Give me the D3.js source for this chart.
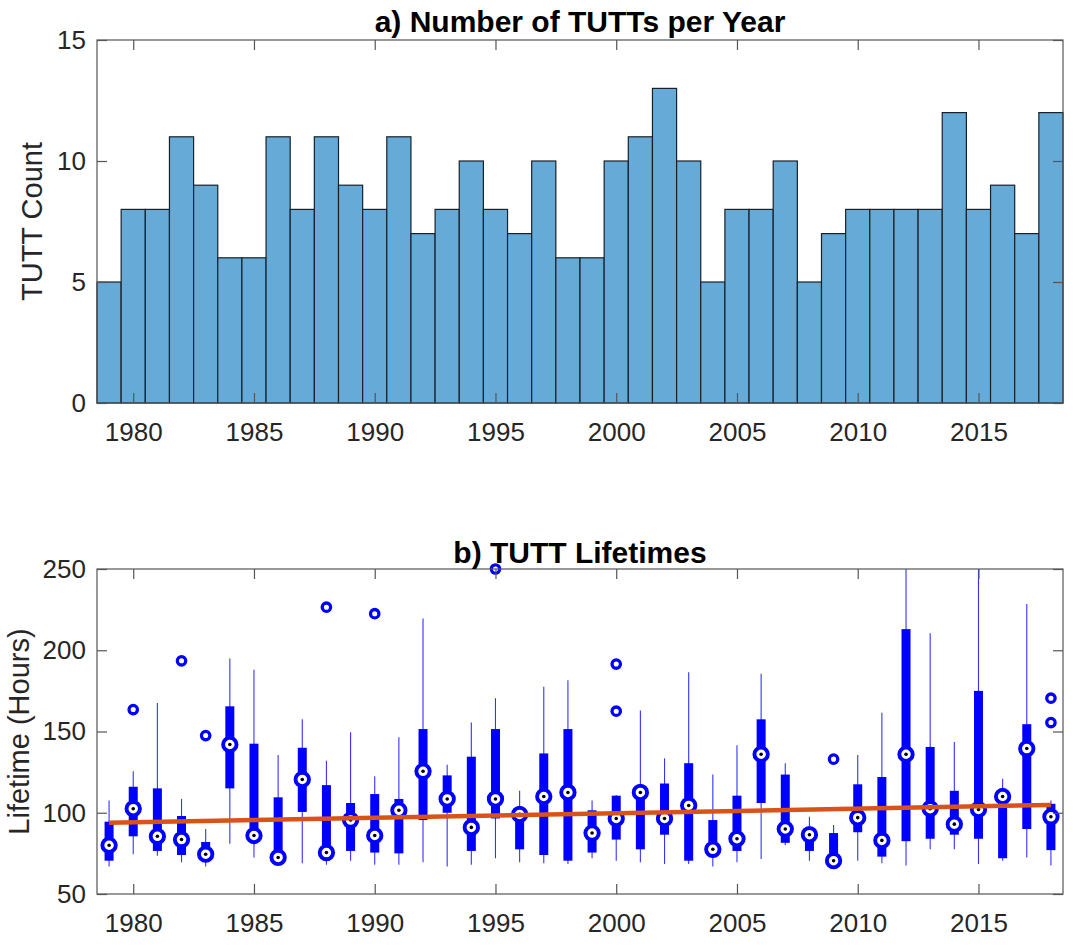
<!DOCTYPE html>
<html>
<head>
<meta charset="utf-8">
<script src="https://cdn.jsdelivr.net/npm/d3@7/dist/d3.min.js"></script>
<style>
  html, body { margin: 0; padding: 0; background: #ffffff; }
  svg { display: block; font-family: "Liberation Sans", Arial, Helvetica, sans-serif; }
</style>
</head>
<body>
<svg id="chart" width="1073" height="952"></svg>
<script>
// ---- data ----
const years = [1979, 1980, 1981, 1982, 1983, 1984, 1985, 1986, 1987, 1988,
               1989, 1990, 1991, 1992, 1993, 1994, 1995, 1996, 1997, 1998,
               1999, 2000, 2001, 2002, 2003, 2004, 2005, 2006, 2007, 2008,
               2009, 2010, 2011, 2012, 2013, 2014, 2015, 2016, 2017, 2018];

const tuttCounts = [5, 8, 8, 11, 9, 6, 6, 11, 8, 11,
                    9, 8, 11, 7, 8, 10, 8, 7, 10, 6,
                    6, 10, 11, 13, 10, 5, 8, 8, 10, 5,
                    7, 8, 8, 8, 8, 12, 8, 9, 7, 12];

// Lifetime box statistics (hours) per year
const whiskerLow = [67, 74.5, 73.5, 69.5, 67, 81, 72.5, 70, 69, 68,
                    70.5, 68, 68, 69.5, 67, 68, 72, 69.5, 69, 68.5,
                    72, 70.5, 69.5, 68.5, 68.5, 67, 69.5, 71.5, 80, 70.5,
                    68, 70.5, 69, 67.5, 77.5, 77.5, 68.5, 70.5, 72.5, 67.5];
const quartile1  = [70.5, 85.5, 76.5, 74, 72, 115, 82, 72, 100.5, 73,
                    76.5, 75.5, 75, 95.5, 100, 76.5, 96.5, 77.5, 74, 70.5,
                    75.5, 83.5, 77.5, 86.5, 70.5, 73, 76.5, 106, 81.5, 76.5,
                    70, 88, 73, 82.5, 84, 86.5, 84, 72, 90, 77];
const medians    = [80, 102.5, 85.5, 83.5, 74.5, 142, 86, 72.5, 120.5, 75.5,
                    95.5, 86, 101.5, 125.5, 108.5, 91, 108.5, 99, 110, 112.5,
                    87.5, 96.5, 112.5, 96.5, 104.5, 77.5, 84, 136, 90, 86.5,
                    70.5, 97, 83, 136, 102.5, 93, 102, 110, 139.5, 97.5];
const quartile3  = [94.5, 116, 115, 98, 82, 165.5, 142.5, 109.5, 140, 117,
                    106, 111.5, 108.5, 151.5, 123, 134.5, 151.5, 101, 136.5, 151.5,
                    101.5, 110.5, 115, 118, 130.5, 95.5, 110.5, 157.5, 123.5, 89,
                    87.5, 117.5, 122, 213, 140.5, 113.5, 175, 112, 154.5, 105.5];
const whiskerHigh = [107.5, 125.5, 167.5, 108.5, 90, 195, 188, 135.5, 157.5, 132,
                     149.5, 122.5, 146.5, 219.5, 129.5, 155.5, 170.5, 113.5, 177.5, 181.5,
                     107.5, 111, 163, 133.5, 186.5, 123.5, 141.5, 185.5, 130.5, 97.5,
                     92.5, 135.5, 161.5, 250, 210.5, 143.5, 250, 121, 228.5, 107.5];

const outlierYears  = [1980, 1982, 1983, 1988, 1990, 1995, 2000, 2000, 2009, 2018, 2018];
const outlierValues = [163.5, 193.5, 147.5, 226.5, 222.5, 250, 191.5, 162.5, 133, 170.5, 155.5];

// Linear trend of lifetimes (end points)
const trendYears  = [1979, 2018];
const trendValues = [93.8, 104.8];

const yearTicks     = [1980, 1985, 1990, 1995, 2000, 2005, 2010, 2015];
const countTicks    = [0, 5, 10, 15];
const lifetimeTicks = [50, 100, 150, 200, 250];

// ---- layout ----
const svg = d3.select("#chart");
svg.append("rect").attr("width", 1073).attr("height", 952).attr("fill", "#ffffff");

const left = 97, right = 1063;
const topA = { top: 40, bottom: 403 };
const topB = { top: 569, bottom: 894 };

const textColor = "#262626";
const axisColor = "#555555";
const tickFont = 26;
const labelFont = 29;
const titleFont = 30;

const x = d3.scaleLinear().domain([1978.5, 2018.5]).range([left, right]);
const yA = d3.scaleLinear().domain([0, 15]).range([topA.bottom, topA.top]);
const yB = d3.scaleLinear().domain([50, 250]).range([topB.bottom, topB.top]);

function styleAxis(g, withLabels) {
  g.selectAll(".domain").remove();
  g.selectAll(".tick line").attr("stroke", axisColor).attr("stroke-width", 1.2);
  if (withLabels) {
    g.selectAll(".tick text")
      .attr("fill", textColor)
      .style("font-size", tickFont + "px");
  } else {
    g.selectAll(".tick text").remove();
  }
}

function drawFrame(yScale, box, yTicks, labelGap) {
  const g = svg.append("g");
  const bottomAxis = g.append("g")
    .attr("transform", `translate(0,${box.bottom})`)
    .call(d3.axisBottom(x).tickValues(yearTicks).tickFormat(d3.format("d"))
      .tickSizeInner(-10).tickSizeOuter(0).tickPadding(labelGap));
  styleAxis(bottomAxis, true);

  const topAxis = g.append("g")
    .attr("transform", `translate(0,${box.top})`)
    .call(d3.axisTop(x).tickValues(yearTicks).tickSizeInner(-10).tickSizeOuter(0));
  styleAxis(topAxis, false);

  const leftAxis = g.append("g")
    .attr("transform", `translate(${left},0)`)
    .call(d3.axisLeft(yScale).tickValues(yTicks).tickFormat(d3.format("d"))
      .tickSizeInner(-10).tickSizeOuter(0).tickPadding(11));
  styleAxis(leftAxis, true);

  const rightAxis = g.append("g")
    .attr("transform", `translate(${right},0)`)
    .call(d3.axisRight(yScale).tickValues(yTicks).tickSizeInner(-10).tickSizeOuter(0));
  styleAxis(rightAxis, false);

  g.append("rect")
    .attr("x", left).attr("y", box.top)
    .attr("width", right - left).attr("height", box.bottom - box.top)
    .attr("fill", "none").attr("stroke", axisColor).attr("stroke-width", 1.2);
  return g;
}

// ---- panel a: yearly counts ----
const barsA = svg.append("g");
barsA.selectAll("rect")
  .data(years.map((yr, i) => ({ yr, n: tuttCounts[i] })))
  .join("rect")
  .attr("x", d => x(d.yr - 0.5))
  .attr("width", d => x(d.yr + 0.5) - x(d.yr - 0.5))
  .attr("y", d => yA(d.n))
  .attr("height", d => yA(0) - yA(d.n))
  .attr("fill", "#66aad7")
  .attr("stroke", "#17212a")
  .attr("stroke-width", 1.2);

drawFrame(yA, topA, countTicks, 20);

svg.append("text")
  .attr("x", (left + right) / 2).attr("y", 32)
  .attr("text-anchor", "middle")
  .attr("font-weight", "bold")
  .attr("fill", "#000000")
  .style("font-size", titleFont + "px")
  .text("a) Number of TUTTs per Year");

svg.append("text")
  .attr("transform", `translate(42,${(topA.top + topA.bottom) / 2}) rotate(-90)`)
  .attr("text-anchor", "middle")
  .attr("fill", textColor)
  .style("font-size", labelFont + "px")
  .text("TUTT Count");

// ---- panel b: lifetimes box plot ----
const stats = years.map((yr, i) => ({
  yr,
  lo: whiskerLow[i], q1: quartile1[i], med: medians[i], q3: quartile3[i], hi: whiskerHigh[i]
}));

const boxesB = svg.append("g");
boxesB.selectAll("line.whisker")
  .data(stats).join("line")
  .attr("class", "whisker")
  .attr("x1", d => x(d.yr)).attr("x2", d => x(d.yr))
  .attr("y1", d => yB(d.lo)).attr("y2", d => yB(d.hi))
  .attr("stroke", "#0000ff").attr("stroke-width", 1.1).attr("stroke-opacity", 0.8);

boxesB.selectAll("rect.box")
  .data(stats).join("rect")
  .attr("class", "box")
  .attr("x", d => x(d.yr) - 4.5).attr("width", 9)
  .attr("y", d => yB(d.q3)).attr("height", d => yB(d.q1) - yB(d.q3))
  .attr("fill", "#0000ff");

boxesB.selectAll("circle.median")
  .data(stats).join("circle")
  .attr("class", "median")
  .attr("cx", d => x(d.yr)).attr("cy", d => yB(d.med))
  .attr("r", 6.7)
  .attr("fill", "#ffffff").attr("stroke", "#0000ff").attr("stroke-width", 3.9);

boxesB.selectAll("circle.mdot")
  .data(stats).join("circle")
  .attr("class", "mdot")
  .attr("cx", d => x(d.yr)).attr("cy", d => yB(d.med))
  .attr("r", 1.8).attr("fill", "#000000");

boxesB.selectAll("circle.outlier")
  .data(outlierYears.map((yr, i) => ({ yr, v: outlierValues[i] })))
  .join("circle")
  .attr("class", "outlier")
  .attr("cx", d => x(d.yr)).attr("cy", d => yB(d.v))
  .attr("r", 4.2)
  .attr("fill", "#ffffff").attr("stroke", "#0000ff").attr("stroke-width", 3.3);

const trendLine = d3.line().x(d => x(d[0])).y(d => yB(d[1]));
svg.append("path")
  .datum(trendYears.map((yr, i) => [yr, trendValues[i]]))
  .attr("d", trendLine)
  .attr("fill", "none")
  .attr("stroke", "#d95319")
  .attr("stroke-width", 4.5);

drawFrame(yB, topB, lifetimeTicks, 20);

svg.append("text")
  .attr("x", (left + right) / 2).attr("y", 563)
  .attr("text-anchor", "middle")
  .attr("font-weight", "bold")
  .attr("fill", "#000000")
  .style("font-size", titleFont + "px")
  .text("b) TUTT Lifetimes");

svg.append("text")
  .attr("transform", `translate(29,${(topB.top + topB.bottom) / 2}) rotate(-90)`)
  .attr("text-anchor", "middle")
  .attr("fill", textColor)
  .style("font-size", labelFont + "px")
  .text("Lifetime (Hours)");
</script>
</body>
</html>
